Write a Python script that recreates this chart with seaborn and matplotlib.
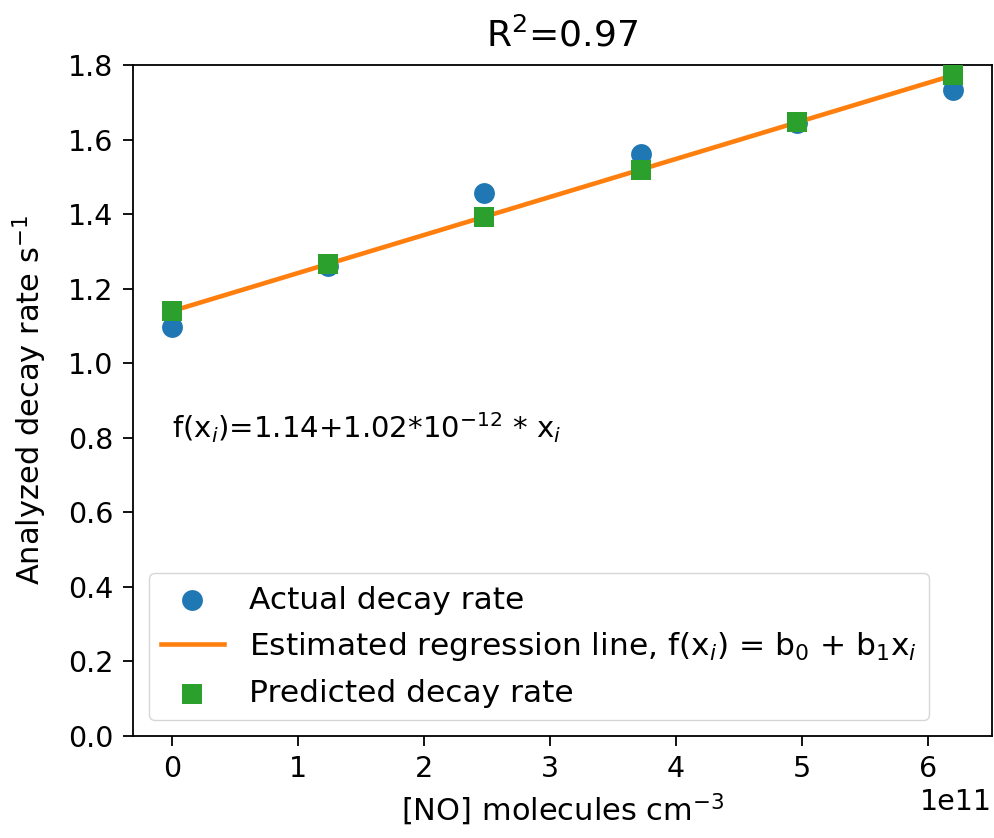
import matplotlib
matplotlib.use("Agg")
import matplotlib.pyplot as plt
import seaborn as sns
import numpy as np
import pandas as pd

# [NO] concentrations (molecules cm^-3) and measured decay rates (s^-1)
no_conc = [0.0, 1.24e11, 2.48e11, 3.72e11, 4.96e11, 6.2e11]
actual_rate = [1.098, 1.262, 1.458, 1.561, 1.645, 1.733]

# fitted regression coefficients
b0 = 1.14
b1 = 1.02e-12
r_squared = 0.97

predicted_rate = [b0 + b1 * x for x in no_conc]

df = pd.DataFrame({"conc": no_conc, "actual": actual_rate, "pred": predicted_rate})

tick_fs = 20.5
label_fs = 22
legend_fs = 22.5
title_fs = 26
eq_fs = 21

fig = plt.figure(figsize=(9.95, 8.38), dpi=100)
ax = fig.add_axes([0.1337, 0.1217, 0.997 - 0.1337, 0.9224 - 0.1217])

sns.scatterplot(data=df, x="conc", y="actual", ax=ax, color="#1f77b4", marker="o",
                s=15 ** 2, linewidth=0, label="Actual decay rate", zorder=2)
sns.lineplot(data=df, x="conc", y="pred", ax=ax, color="#ff7f0e", linewidth=3.3,
             label="Estimated regression line, f(x$_i$) = b$_0$ + b$_1$x$_i$", zorder=3)
sns.scatterplot(data=df, x="conc", y="pred", ax=ax, color="#2ca02c", marker="s",
                s=14.5 ** 2, linewidth=0, label="Predicted decay rate", zorder=4)

ax.set_ylim(0, 1.8)
ax.set_yticks(np.arange(0, 1.81, 0.2))
ax.set_title("R$^2$=%.2f" % r_squared, fontsize=title_fs, pad=13)
ax.set_xlabel("[NO] molecules cm$^{-3}$", fontsize=label_fs, labelpad=6)
ax.set_ylabel("Analyzed decay rate s$^{-1}$", fontsize=label_fs, labelpad=14)
ax.tick_params(labelsize=tick_fs, length=7, width=1.3, pad=7)
for sp in ax.spines.values():
    sp.set_linewidth(1.3)
ax.xaxis.get_offset_text().set_fontsize(tick_fs)

ax.text(0, 0.8, "f(x$_i$)=%.2f+%.2f*10$^{-12}$ * x$_i$" % (b0, b1 * 1e12), fontsize=eq_fs)

ax.legend(loc="lower left", fontsize=legend_fs)

fig.savefig("out.png", dpi=100)
